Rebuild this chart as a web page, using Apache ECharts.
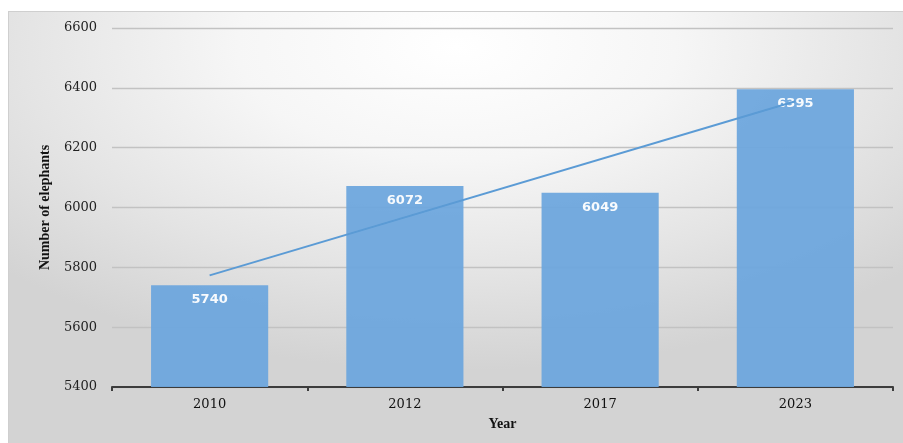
<!DOCTYPE html>
<html>
<head>
<meta charset="utf-8">
<script src="https://cdn.jsdelivr.net/npm/echarts@6/dist/echarts.min.js"></script>
<style>
  html, body { margin: 0; padding: 0; background: #ffffff; }
  #bg { position: absolute; left: 8px; top: 11px; width: 895px; height: 432px;
        background: radial-gradient(ellipse 70% 75% at 50% 8%, #ffffff 0%, #f6f6f6 35%, #e4e4e4 70%, #d3d3d3 100%);
        border-top: 1px solid #cfcfcf; border-left: 1px solid #cfcfcf; }
  #chart { position: absolute; left: 0; top: 0; width: 903px; height: 443px; }
</style>
</head>
<body>
<div id="bg"></div>
<div id="chart"></div>
<script>
const years = ['2010', '2012', '2017', '2023'];
const elephants = [5740, 6072, 6049, 6395];
const trendline = [5773, null, null, 6355];
const yTicks = [5400, 5600, 5800, 6000, 6200, 6400, 6600];

const chart = echarts.init(document.getElementById('chart'), null, { renderer: 'canvas' });
chart.setOption({
  backgroundColor: 'transparent',
  animation: false,
  grid: { left: 112, right: 10, top: 28, bottom: 56 },
  xAxis: {
    type: 'category',
    data: years,
    name: 'Year',
    nameLocation: 'middle',
    nameGap: 30,
    nameTextStyle: { fontFamily: 'Liberation Serif', fontWeight: 'bold', fontSize: 14, color: '#111' },
    axisLine: { lineStyle: { color: '#3c3c3c', width: 2 } },
    axisTick: { show: true, alignWithLabel: false, length: 4, lineStyle: { color: '#3c3c3c', width: 2 } },
    axisLabel: { fontFamily: 'DejaVu Serif', fontSize: 13, color: '#111', margin: 11 }
  },
  yAxis: {
    type: 'value',
    min: yTicks[0],
    max: yTicks[yTicks.length - 1],
    interval: 200,
    name: 'Number of elephants',
    nameLocation: 'middle',
    nameGap: 60,
    nameTextStyle: { fontFamily: 'Liberation Serif', fontWeight: 'bold', fontSize: 14, color: '#111' },
    axisLine: { show: false },
    axisTick: { show: false },
    axisLabel: { fontFamily: 'DejaVu Serif', fontSize: 13, color: '#222', margin: 15, formatter: v => String(v) },
    splitLine: { lineStyle: { color: '#c2c2c2', width: 1.3 } }
  },
  series: [
    {
      type: 'bar',
      data: elephants,
      barCategoryGap: '40%',
      itemStyle: { color: '#6ea7dd', opacity: 0.95 },
      label: {
        show: true,
        position: 'insideTop',
        distance: 8,
        color: '#ffffff',
        fontFamily: 'DejaVu Sans',
        fontWeight: 'bold',
        fontSize: 13
      }
    },
    {
      type: 'line',
      data: trendline,
      connectNulls: true,
      symbol: 'none',
      lineStyle: { color: '#5b9bd5', width: 2 },
      z: 3
    }
  ]
});
</script>
</body>
</html>
